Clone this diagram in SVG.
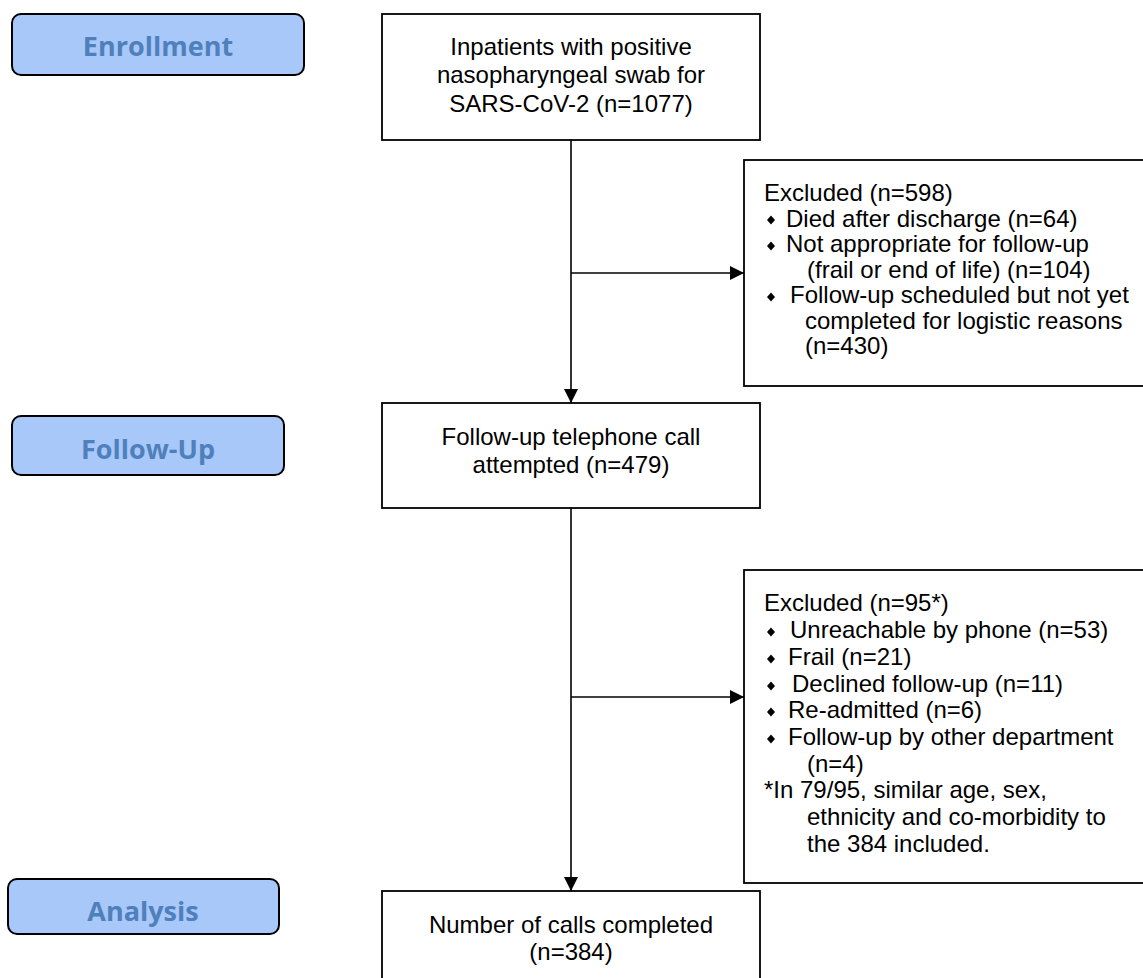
<svg xmlns="http://www.w3.org/2000/svg" width="1143" height="978" viewBox="0 0 1143 978">
<defs>
<style>
.stage rect{fill:#a8c8fa;stroke:#000;stroke-width:2}
.stage text{font-family:"Open Sans","Liberation Sans",sans-serif;font-weight:bold;font-size:27px;fill:#4f80bb;text-anchor:middle}
.box rect{fill:#fff;stroke:#000;stroke-width:1.8}
.box text{font-family:"Liberation Sans",Arial,sans-serif;font-size:24px;fill:#000}
.c text{text-anchor:middle}
.conn line{stroke:#000;stroke-width:1.6}
.bul{fill:#000}
</style>
<marker id="ah" markerWidth="14" markerHeight="14" viewBox="0 0 14 14" refX="14" refY="7" orient="auto" markerUnits="userSpaceOnUse">
<path d="M0,0 L14,7 L0,14 Z" fill="#000"/>
</marker>
<path id="dia" d="M0,-4.5 L4,0 L0,4.5 L-4,0 Z"/>
</defs>

<g id="enrollment" class="stage">
<rect x="12" y="14" width="292" height="61" rx="9"/>
<text x="158" y="56">Enrollment</text>
</g>
<g id="followup-label" class="stage">
<rect x="12" y="416" width="272" height="59" rx="9"/>
<text x="148" y="459">Follow-Up</text>
</g>
<g id="analysis" class="stage">
<rect x="8" y="879" width="271" height="55" rx="9"/>
<text x="143" y="921">Analysis</text>
</g>

<g id="inpatients" class="box c">
<rect x="382" y="14" width="378" height="126"/>
<text x="571" y="55">Inpatients with positive</text>
<text x="571" y="83">nasopharyngeal swab for</text>
<text x="571" y="112">SARS-CoV-2 (n=1077)</text>
</g>

<g id="excluded1" class="box">
<rect x="744" y="160" width="420" height="226"/>
<text x="764" y="201">Excluded (n=598)</text>
<use href="#dia" x="771" y="220" class="bul"/>
<text x="786" y="226.5">Died after discharge (n=64)</text>
<use href="#dia" x="771" y="246" class="bul"/>
<text x="786" y="252">Not appropriate for follow-up</text>
<text x="807" y="277.5">(frail or end of life) (n=104)</text>
<use href="#dia" x="771" y="297" class="bul"/>
<text x="790" y="303">Follow-up scheduled but not yet</text>
<text x="805" y="328.5">completed for logistic reasons</text>
<text x="805" y="354">(n=430)</text>
</g>

<g id="attempted" class="box c">
<rect x="382" y="403" width="378" height="105"/>
<text x="571" y="445">Follow-up telephone call</text>
<text x="571" y="473">attempted (n=479)</text>
</g>

<g id="excluded2" class="box">
<rect x="744" y="570" width="420" height="313"/>
<text x="764" y="611">Excluded (n=95*)</text>
<use href="#dia" x="771" y="632" class="bul"/>
<text x="790" y="638">Unreachable by phone (n=53)</text>
<use href="#dia" x="771" y="659" class="bul"/>
<text x="788" y="665">Frail (n=21)</text>
<use href="#dia" x="771" y="686" class="bul"/>
<text x="792" y="692">Declined follow-up (n=11)</text>
<use href="#dia" x="771" y="712" class="bul"/>
<text x="788" y="718">Re-admitted (n=6)</text>
<use href="#dia" x="771" y="739" class="bul"/>
<text x="788" y="745">Follow-up by other department</text>
<text x="807" y="772">(n=4)</text>
<text x="764" y="798">*In 79/95, similar age, sex,</text>
<text x="807" y="825">ethnicity and co-morbidity to</text>
<text x="807" y="852">the 384 included.</text>
</g>

<g id="completed" class="box c">
<rect x="382" y="891" width="378" height="100"/>
<text x="571" y="933">Number of calls completed</text>
<text x="571" y="960">(n=384)</text>
</g>

<g id="connectors" class="conn">
<line x1="571" y1="140" x2="571" y2="403" marker-end="url(#ah)"/>
<line x1="571" y1="273" x2="744" y2="273" marker-end="url(#ah)"/>
<line x1="571" y1="508" x2="571" y2="891" marker-end="url(#ah)"/>
<line x1="571" y1="697" x2="744" y2="697" marker-end="url(#ah)"/>
</g>
</svg>
